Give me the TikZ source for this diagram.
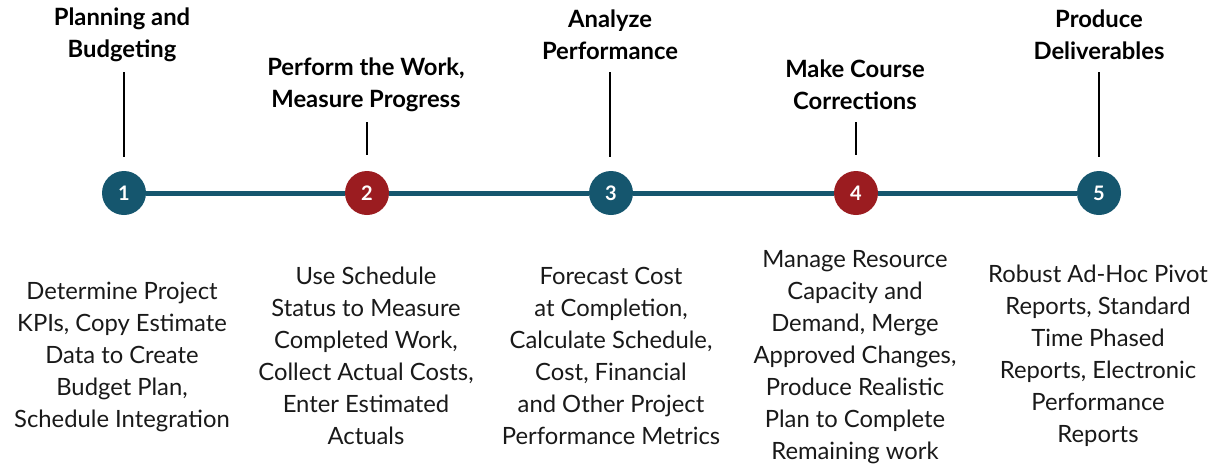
\documentclass[tikz,border=0pt]{standalone}
\usepackage{fontspec}
\setmainfont{Lato}
\definecolor{tealc}{HTML}{15566E}
\definecolor{redc}{HTML}{9B1C20}
\begin{document}
\begin{tikzpicture}[x=1pt,y=-1pt,
  heading/.style={font=\fontsize{23.8}{31.5}\selectfont\bfseries, align=center, inner sep=0pt, text=black},
  body/.style={font=\fontsize{23.8}{32}\selectfont, align=center, inner sep=0pt, text=black!90},
  dot/.style={circle, minimum size=44pt, inner sep=0pt, text=white, font=\fontsize{20}{20}\selectfont\bfseries},
  tdot/.style={dot, fill=tealc},
  rdot/.style={dot, fill=redc},
  tie/.style={line width=2.2pt, black},
  rail/.style={line width=5pt, tealc}]
\useasboundingbox (0,0) rectangle (1230,466);
\node[tdot] (c1) at (124,193) {1};
\node[rdot] (c2) at (367,193) {2};
\node[tdot] (c3) at (611,193) {3};
\node[rdot] (c4) at (856,193) {4};
\node[tdot] (c5) at (1099,193) {5};
\draw[rail] (c1) -- (c2);
\draw[rail] (c2) -- (c3);
\draw[rail] (c3) -- (c4);
\draw[rail] (c4) -- (c5);
\node[heading] (h1) at (122,35) {Planning and\\Budgeting};
\node[heading] (h2) at (366,85) {Perform the Work,\\Measure Progress};
\node[heading] (h3) at (610,35) {Analyze\\Performance};
\node[heading] (h4) at (855,85) {Make Course\\Corrections};
\node[heading] (h5) at (1099,35) {Produce\\Deliverables};
\coordinate (t1a) at (124,72); \coordinate (t1b) at (124,157);
\coordinate (t2a) at (367,122); \coordinate (t2b) at (367,155);
\coordinate (t3a) at (610,72); \coordinate (t3b) at (610,157);
\coordinate (t4a) at (856,122); \coordinate (t4b) at (856,155);
\coordinate (t5a) at (1099,72); \coordinate (t5b) at (1099,157);
\draw[tie] (t1a) -- (t1b);
\draw[tie] (t2a) -- (t2b);
\draw[tie] (t3a) -- (t3b);
\draw[tie] (t4a) -- (t4b);
\draw[tie] (t5a) -- (t5b);
\node[body] (b1) at (122,357) {Determine Project\\KPIs, Copy Estimate\\Data to Create\\Budget Plan,\\Schedule Integration};
\node[body] (b2) at (366,356) {Use Schedule\\Status to Measure\\Completed Work,\\Collect Actual Costs,\\Enter Estimated\\Actuals};
\node[body] (b3) at (611,356) {Forecast Cost\\at Completion,\\Calculate Schedule,\\Cost, Financial\\and Other Project\\Performance Metrics};
\node[body] (b4) at (855,357) {Manage Resource\\Capacity and\\Demand, Merge\\Approved Changes,\\Produce Realistic\\Plan to Complete\\Remaining work};
\node[body] (b5) at (1098,356) {Robust Ad-Hoc Pivot\\Reports, Standard\\Time Phased\\Reports, Electronic\\Performance\\Reports};
\end{tikzpicture}
\end{document}
